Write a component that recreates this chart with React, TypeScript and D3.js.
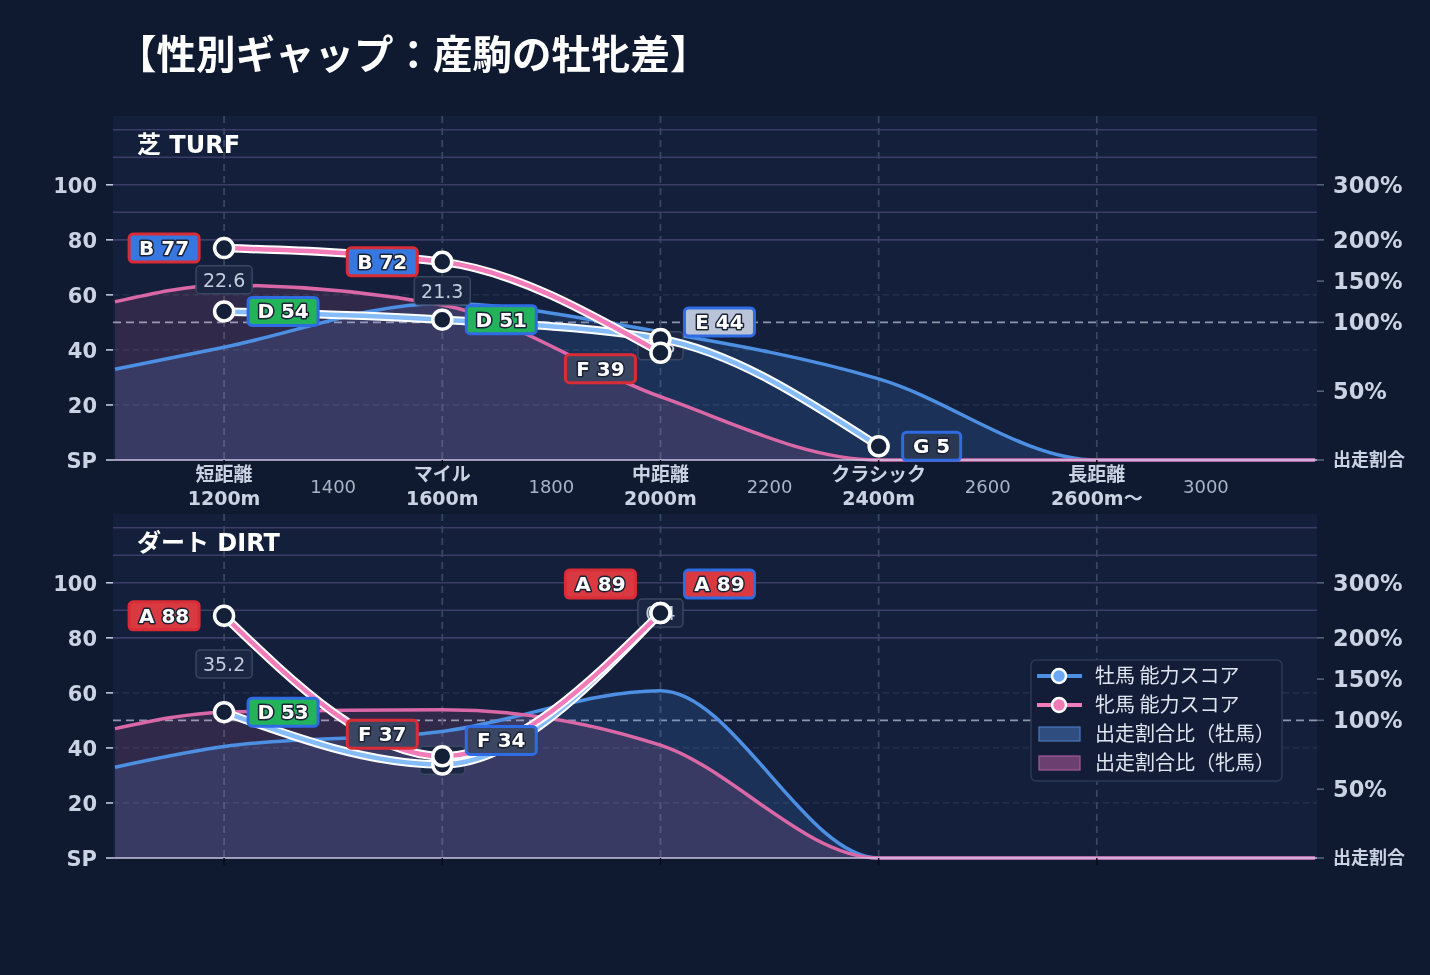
import { useEffect, useRef } from "react";
import * as d3 from "d3";

// ── Data ─────────────────────────────────────────────────────────────────────
const CAT_DIST = [1200, 1600, 2000, 2400, 2800];
const CAT_NAME = ["短距離", "マイル", "中距離", "クラシック", "長距離"];
const CAT_SUB = ["1200m", "1600m", "2000m", "2400m", "2600m〜"];
const MID_TICKS = [1400, 1800, 2200, 2600, 3000];

const SCORE_TICKS = [0, 20, 40, 60, 80, 100];
const SCORE_TICK_LABELS = ["SP", "20", "40", "60", "80", "100"];
const RATIO_TICKS = [0, 50, 100, 150, 200, 300];
const RATIO_TICK_LABELS = ["出走割合", "50%", "100%", "150%", "200%", "300%"];

// entry-ratio curves: category distances plus the two axis edges (values in %)
const RATIO_X = [1000, 1200, 1600, 2000, 2400, 2800, 3200];

// 芝
const TURF_MALE_SCORE = [54, 51, 44, 5];
const TURF_MALE_GRADE = ["D", "D", "E", "G"];
const TURF_FEMALE_SCORE = [77, 72, 39];
const TURF_FEMALE_GRADE = ["B", "B", "F"];
const TURF_GAP = [22.6, 21.3, 4.8];
const TURF_MALE_RATIO = [66, 82, 123, 93, 59, 0, 0];
const TURF_FEMALE_RATIO = [125, 145, 121, 46, 0, 0, 0];

// ダート
const DIRT_MALE_SCORE = [53, 34, 89];
const DIRT_MALE_GRADE = ["D", "F", "A"];
const DIRT_FEMALE_SCORE = [88, 37, 89];
const DIRT_FEMALE_GRADE = ["A", "F", "A"];
const DIRT_GAP = [35.2, 2.9, 0.4];
const DIRT_MALE_RATIO = [66, 81, 92, 136, 0, 0, 0];
const DIRT_FEMALE_RATIO = [94, 110, 113, 82, 0, 0, 0];

// label nudges (px) so that tags at the same distance don't collide
const TURF_MALE_DY = [0, 0, -17, 0];
const TURF_FEMALE_DY = [0, 0, 16];
const DIRT_MALE_DY = [0, -24, -29];
const DIRT_FEMALE_DY = [0, -22, -29];

// ── Colours ──────────────────────────────────────────────────────────────────
const C_PAGE = "#0f192f";
const C_PLOT = "#131f3b";
const C_TEXT = "#c9d3e3";
const C_MALE_LINE = "#86bcfa";
const C_FEMALE_LINE = "#f27cb9";
const C_MALE_AREA = "#4d8fe2";
const C_FEMALE_AREA = "#db68a6";
const C_MALE_BORDER = "#2f6be2";
const C_FEMALE_BORDER = "#d92c36";
const GRADE_FILL: Record<string, string> = {
  A: "#d93a41", B: "#3678e0", C: "#e8a13a", D: "#23b35a",
  E: "#b9c4d8", F: "#3b4762", G: "#2b3852",
};
const FONT = "'DejaVu Sans', 'Noto Sans CJK JP', sans-serif";
const FONT_CJK = "'Noto Sans CJK JP', sans-serif";

const W = 1430, H = 975;
const X0 = 113, X1 = 1317;

interface Panel {
  name: string; top: number; bottom: number; xLabels: boolean;
  maleScore: number[]; maleGrade: string[]; maleDy: number[];
  femaleScore: number[]; femaleGrade: string[]; femaleDy: number[];
  gap: number[]; maleRatio: number[]; femaleRatio: number[];
}

const PANELS: Panel[] = [
  {
    name: "芝 TURF", top: 116, bottom: 460, xLabels: true,
    maleScore: TURF_MALE_SCORE, maleGrade: TURF_MALE_GRADE, maleDy: TURF_MALE_DY,
    femaleScore: TURF_FEMALE_SCORE, femaleGrade: TURF_FEMALE_GRADE, femaleDy: TURF_FEMALE_DY,
    gap: TURF_GAP, maleRatio: TURF_MALE_RATIO, femaleRatio: TURF_FEMALE_RATIO,
  },
  {
    name: "ダート DIRT", top: 514, bottom: 858, xLabels: false,
    maleScore: DIRT_MALE_SCORE, maleGrade: DIRT_MALE_GRADE, maleDy: DIRT_MALE_DY,
    femaleScore: DIRT_FEMALE_SCORE, femaleGrade: DIRT_FEMALE_GRADE, femaleDy: DIRT_FEMALE_DY,
    gap: DIRT_GAP, maleRatio: DIRT_MALE_RATIO, femaleRatio: DIRT_FEMALE_RATIO,
  },
];

type Sel = d3.Selection<any, unknown, null, undefined>;

// ratio (%) → position on the score axis (piecewise linear right axis)
const ratioToScore = d3.scaleLinear().domain([0, 100, 200, 300]).range([0, 50, 80, 100]);

function drawPanel(svg: Sel, x: d3.ScaleLinear<number, number>, p: Panel) {
  const y = d3.scaleLinear().domain([0, 125]).range([p.bottom, p.top]);
  const g = svg.append("g");

  g.append("rect").attr("x", X0).attr("y", p.top)
    .attr("width", X1 - X0).attr("height", p.bottom - p.top).attr("fill", C_PLOT);

  // ── grid ──────────────────────────────────────────────────────────────
  [20, 40, 60].forEach(v => {
    g.append("line").attr("x1", X0).attr("x2", X1).attr("y1", y(v)).attr("y2", y(v))
      .attr("stroke", "#27344f").attr("stroke-width", 1.2).attr("stroke-dasharray", "6,4");
  });
  [80, 90, 100, 110, 120].forEach(v => {
    g.append("line").attr("x1", X0).attr("x2", X1).attr("y1", y(v)).attr("y2", y(v))
      .attr("stroke", "#3c3d69").attr("stroke-width", 1.6);
  });
  g.append("line").attr("x1", X0).attr("x2", X1)
    .attr("y1", y(ratioToScore(100))).attr("y2", y(ratioToScore(100)))
    .attr("stroke", "#8d96ab").attr("stroke-width", 1.6).attr("stroke-dasharray", "8,5");
  CAT_DIST.forEach(d => {
    g.append("line").attr("x1", x(d)).attr("x2", x(d)).attr("y1", p.top).attr("y2", p.bottom)
      .attr("stroke", "#38465f").attr("stroke-width", 1.8).attr("stroke-dasharray", "7,5");
  });

  g.append("text").attr("x", 137).attr("y", y(115) + 9)
    .attr("font-size", 24).attr("font-weight", 700).attr("fill", "#ffffff")
    .text(p.name);

  // ── entry-ratio areas ─────────────────────────────────────────────────
  const area = d3.area<number>()
    .x((_, i) => x(RATIO_X[i])).y0(y(0)).y1(d => y(ratioToScore(d)))
    .curve(d3.curveMonotoneX);
  const edge = d3.line<number>()
    .x((_, i) => x(RATIO_X[i])).y(d => y(ratioToScore(d)))
    .curve(d3.curveMonotoneX);

  g.append("path").datum(p.maleRatio).attr("d", area)
    .attr("fill", C_MALE_AREA).attr("fill-opacity", 0.17);
  g.append("path").datum(p.femaleRatio).attr("d", area)
    .attr("fill", "rgb(32,11,18)").style("mix-blend-mode", "screen");
  g.append("path").datum(p.maleRatio).attr("d", edge)
    .attr("fill", "none").attr("stroke", C_MALE_AREA).attr("stroke-width", 3.5);
  g.append("path").datum(p.femaleRatio).attr("d", edge)
    .attr("fill", "none").attr("stroke", C_FEMALE_AREA).attr("stroke-width", 3.5);

  g.append("line").attr("x1", X0).attr("x2", X1).attr("y1", y(0)).attr("y2", y(0))
    .attr("stroke", "#cdc4e6").attr("stroke-width", 1.5);

  // ── axes ──────────────────────────────────────────────────────────────
  SCORE_TICKS.forEach((v, i) => {
    g.append("line").attr("x1", X0 - 7).attr("x2", X0).attr("y1", y(v)).attr("y2", y(v))
      .attr("stroke", C_TEXT).attr("stroke-width", 1.5);
    g.append("text").attr("x", 97).attr("y", y(v) + 8).attr("text-anchor", "end")
      .attr("font-size", 21).attr("font-weight", 700).attr("fill", C_TEXT)
      .text(SCORE_TICK_LABELS[i]);
  });
  RATIO_TICKS.forEach((r, i) => {
    const yy = y(ratioToScore(r));
    g.append("line").attr("x1", X1).attr("x2", X1 + 7).attr("y1", yy).attr("y2", yy)
      .attr("stroke", "#5a6580").attr("stroke-width", 1.5);
    const small = i === 0;
    g.append("text").attr("x", 1333).attr("y", yy + (small ? 6 : 8))
      .attr("font-family", small ? FONT_CJK : FONT)
      .attr("font-size", small ? 18 : 22.5).attr("font-weight", 700).attr("fill", C_TEXT)
      .text(RATIO_TICK_LABELS[i]);
  });
  CAT_DIST.forEach((d, i) => {
    g.append("line").attr("x1", x(d)).attr("x2", x(d)).attr("y1", p.bottom).attr("y2", p.bottom + 7)
      .attr("stroke", "#070b15").attr("stroke-width", 1.5);
    if (!p.xLabels) return;
    g.append("text").attr("x", x(d)).attr("y", p.bottom + 21).attr("text-anchor", "middle")
      .attr("font-family", FONT_CJK)
      .attr("font-size", 19).attr("font-weight", 700).attr("fill", C_TEXT).text(CAT_NAME[i]);
    g.append("text").attr("x", x(d)).attr("y", p.bottom + 45).attr("text-anchor", "middle")
      .attr("font-size", 19).attr("font-weight", 700).attr("fill", C_TEXT).text(CAT_SUB[i]);
  });
  if (p.xLabels) {
    MID_TICKS.forEach(d => {
      g.append("text").attr("x", x(d)).attr("y", p.bottom + 33).attr("text-anchor", "middle")
        .attr("font-size", 18).attr("fill", "#aab4c7").text(String(d));
    });
  }

  // ── gap labels (between the two scores) ───────────────────────────────
  p.gap.forEach((gv, i) => {
    const cx = x(CAT_DIST[i]);
    const cy = y((p.maleScore[i] + p.femaleScore[i]) / 2);
    const txt = gv.toFixed(1);
    const w = txt.length * 11 + 12;
    g.append("rect").attr("x", cx - w / 2).attr("y", cy - 14).attr("width", w).attr("height", 28)
      .attr("rx", 4).attr("fill", "#1a2642").attr("stroke", "#3a4761").attr("stroke-width", 1.5);
    g.append("text").attr("x", cx).attr("y", cy + 7).attr("text-anchor", "middle")
      .attr("font-size", 19).attr("fill", "#c3cdde").text(txt);
  });

  // ── ability-score lines ───────────────────────────────────────────────
  const scoreLine = d3.line<number>()
    .x((_, i) => x(CAT_DIST[i])).y(d => y(d)).curve(d3.curveMonotoneX);
  const drawScore = (vals: number[], color: string) => {
    g.append("path").datum(vals).attr("d", scoreLine)
      .attr("fill", "none").attr("stroke", "#ffffff").attr("stroke-width", 8.5);
    g.append("path").datum(vals).attr("d", scoreLine)
      .attr("fill", "none").attr("stroke", color).attr("stroke-width", 4.5);
  };
  drawScore(p.maleScore, C_MALE_LINE);
  drawScore(p.femaleScore, C_FEMALE_LINE);

  [...p.maleScore, ...p.femaleScore].forEach((v, k) => {
    const i = k < p.maleScore.length ? k : k - p.maleScore.length;
    g.append("circle").attr("cx", x(CAT_DIST[i])).attr("cy", y(v)).attr("r", 9.5)
      .attr("fill", "#132038").attr("stroke", "#ffffff").attr("stroke-width", 3.5);
  });

  // ── grade tags ────────────────────────────────────────────────────────
  const tag = (i: number, v: number, grade: string, dy: number, side: "left" | "right", border: string) => {
    const txt = `${grade} ${v}`;
    const w = txt.length * 12 + 22;
    const px = x(CAT_DIST[i]);
    const bx = side === "left" ? px - 25 - w : px + 24;
    const cy = y(v) + dy;
    g.append("rect").attr("x", bx).attr("y", cy - 14).attr("width", w).attr("height", 28)
      .attr("rx", 4).attr("fill", GRADE_FILL[grade]).attr("stroke", border).attr("stroke-width", 3);
    g.append("text").attr("x", bx + w / 2).attr("y", cy + 7).attr("text-anchor", "middle")
      .attr("font-size", 20).attr("font-weight", 700).attr("fill", "#ffffff")
      .attr("stroke", "#1b2236").attr("stroke-width", 3).attr("paint-order", "stroke")
      .attr("stroke-linejoin", "round")
      .text(txt);
  };
  p.femaleScore.forEach((v, i) => tag(i, v, p.femaleGrade[i], p.femaleDy[i], "left", C_FEMALE_BORDER));
  p.maleScore.forEach((v, i) => tag(i, v, p.maleGrade[i], p.maleDy[i], "right", C_MALE_BORDER));
}

function drawLegend(svg: Sel) {
  const g = svg.append("g").attr("transform", "translate(1031,660)")
    .attr("font-family", FONT_CJK);
  g.append("rect").attr("width", 251).attr("height", 121).attr("rx", 5)
    .attr("fill", "#131d38").attr("stroke", "#2d3957").attr("stroke-width", 1.5);
  const items = [
    { label: "牡馬 能力スコア", kind: "line", color: C_MALE_AREA, dot: "#6aa8f5" },
    { label: "牝馬 能力スコア", kind: "line", color: C_FEMALE_LINE, dot: "#f07ab6" },
    { label: "出走割合比（牡馬）", kind: "box", color: "#2f4d7e", dot: "#4a7bc4" },
    { label: "出走割合比（牝馬）", kind: "box", color: "#6b3f6f", dot: "#a45a98" },
  ];
  items.forEach((it, i) => {
    const cy = 16 + i * 29;
    if (it.kind === "line") {
      g.append("line").attr("x1", 6).attr("x2", 51).attr("y1", cy).attr("y2", cy)
        .attr("stroke", it.color).attr("stroke-width", 4);
      g.append("circle").attr("cx", 28).attr("cy", cy).attr("r", 7)
        .attr("fill", it.dot).attr("stroke", "#ffffff").attr("stroke-width", 2.5);
    } else {
      g.append("rect").attr("x", 8).attr("y", cy - 7).attr("width", 41).attr("height", 14)
        .attr("fill", it.color).attr("stroke", it.dot).attr("stroke-width", 1.2);
    }
    g.append("text").attr("x", 64).attr("y", cy + 7).attr("font-size", 20)
      .attr("fill", "#dfe5ef").text(it.label);
  });
}

export default function App() {
  const svgRef = useRef<SVGSVGElement>(null);

  useEffect(() => {
    const svg = d3.select(svgRef.current) as Sel;
    svg.selectAll("*").remove();
    svg.attr("font-family", FONT);

    svg.append("rect").attr("width", W).attr("height", H).attr("fill", C_PAGE);
    svg.append("text").attr("x", 117).attr("y", 69)
      .attr("font-family", FONT_CJK)
      .attr("font-size", 39.5).attr("font-weight", 700).attr("fill", "#ffffff")
      .text("【性別ギャップ：産駒の牡牝差】");

    const x = d3.scaleLinear().domain([1000, 3200]).range([115, 1315]);
    PANELS.forEach(p => drawPanel(svg, x, p));
    drawLegend(svg);
  }, []);

  return (
    <div style={{ position: "absolute", left: 0, top: 0 }}>
      <svg ref={svgRef} width={W} height={H} style={{ display: "block" }} />
    </div>
  );
}
